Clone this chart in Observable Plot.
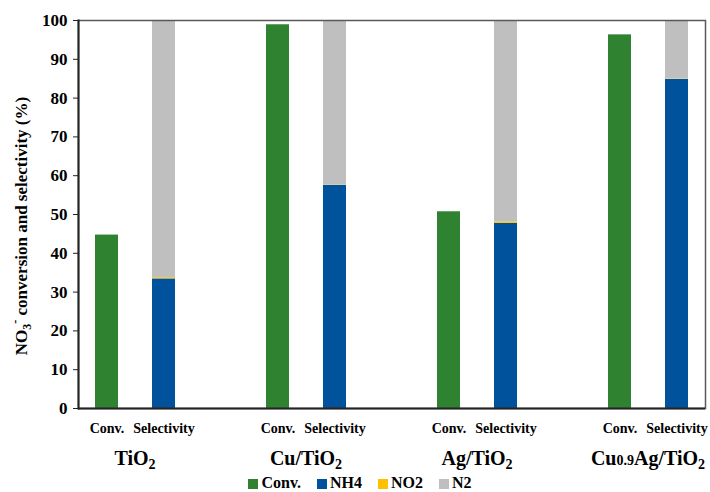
<!DOCTYPE html>
<html><head><meta charset="utf-8">
<script src="https://cdn.jsdelivr.net/npm/d3@7"></script>
<script src="https://cdn.jsdelivr.net/npm/@observablehq/plot@0.6"></script>
<style>
body{margin:0;background:#fff;font-family:"Liberation Serif","Times New Roman",serif;overflow:hidden;}
#chart svg{overflow:visible;display:block;}
#chart svg, #chart svg text{font-family:"Liberation Serif","Times New Roman",serif !important;font-weight:bold;}
#legend{display:flex;justify-content:center;align-items:center;gap:16px;font-weight:bold;font-size:16px;line-height:14px;height:14px;margin-top:3px;margin-left:10px;}
#legend .sw{display:inline-block;width:10px;height:10px;margin-right:3px;vertical-align:middle;}
</style></head><body>
<div id="chart"></div>
<div id="legend"></div>
<script>
// ---- data ----
const catalysts = ["TiO2", "Cu/TiO2", "Ag/TiO2", "Cu0.9Ag/TiO2"];
const barKinds = ["Conv.", "Selectivity"];
const conversion = [44.7, 98.9, 50.7, 96.3];
const nh4 = [33.4, 57.5, 47.7, 84.8];
const no2 = [0.3, 0.1, 0.4, 0.1];
const n2 = [66.3, 42.4, 51.9, 15.1];
const seriesNames = ["Conv.", "NH4", "NO2", "N2"];
const seriesColors = ["#2E8230", "#00529C", "#FFC000", "#BFBFBF"];
const yTicks = [0, 10, 20, 30, 40, 50, 60, 70, 80, 90, 100];
const yTitle = ["NO", "3", "-", " conversion and selectivity (%)"];

// ---- build table ----
const xDomain = [];
const rows = [];
catalysts.forEach((c, i) => {
  const kc = c + "|" + barKinds[0], ks = c + "|" + barKinds[1];
  xDomain.push(kc, ks);
  if (i < catalysts.length - 1) xDomain.push("gap" + i);
  rows.push({key: kc, series: "Conv.", value: conversion[i]});
  rows.push({key: ks, series: "NH4", value: nh4[i]});
  rows.push({key: ks, series: "NO2", value: no2[i]});
  rows.push({key: ks, series: "N2", value: n2[i]});
});

const plot = Plot.plot({
  width: 710, height: 473,
  marginTop: 20, marginBottom: 65, marginLeft: 78, marginRight: 5,
  style: {background: "white", color: "#000"},
  x: {type: "band", domain: xDomain, paddingInner: 0.605, paddingOuter: 0.3025, label: null},
  y: {domain: [0, 100], label: null},
  color: {domain: seriesNames, range: seriesColors},
  marks: [
    Plot.barY(rows, {x: "key", y: "value", fill: "series"}),
    Plot.frame({stroke: "#595959", strokeWidth: 1.5}),
    Plot.axisY({ticks: yTicks, tickSize: 5, tickPadding: 6, fontSize: 17, tickFormat: d => String(d), label: null, stroke: "#222"}),
    Plot.axisX({tickSize: 0, tickPadding: 15, fontSize: 14, label: null,
      tickFormat: k => k.startsWith("gap") ? "" : k.split("|")[1]}),
    Plot.ruleY([0], {stroke: "#222", strokeWidth: 2}),
    Plot.frame({anchor: "left", stroke: "#222", strokeWidth: 2})
  ]
});
document.getElementById("chart").appendChild(plot);

// ---- group labels and y title (real text) ----
const svg = d3.select(plot);
const xs = plot.scale("x");
const bw = xs.bandwidth;
function addRich(g, parts) {
  parts.forEach(p => {
    const t = g.append("tspan").text(p.t);
    if (p.size) t.attr("font-size", p.size);
    if (p.dy) t.attr("dy", p.dy);
  });
}
catalysts.forEach(c => {
  const x1 = xs.apply(c + "|" + barKinds[0]) + bw / 2;
  const x2 = xs.apply(c + "|" + barKinds[1]) + bw / 2;
  const t = svg.append("text")
    .attr("x", (x1 + x2) / 2).attr("y", 465)
    .attr("text-anchor", "middle").attr("font-size", 20).attr("font-weight", "bold");
  const m = c.match(/^(Cu)(0\.9)(Ag\/TiO)2$/);
  if (m) {
    addRich(t, [{t: "Cu"}, {t: "0.9", size: 14}, {t: "Ag/TiO"}, {t: "2", size: 14, dy: 4}]);
  } else {
    addRich(t, [{t: c.slice(0, -1)}, {t: "2", size: 14, dy: 4}]);
  }
});
const yt = svg.append("text")
  .attr("transform", "translate(27,226) rotate(-90)")
  .attr("text-anchor", "middle").attr("font-size", 17).attr("font-weight", "bold");
addRich(yt, [{t: yTitle[0]}, {t: yTitle[1], size: 12, dy: 4}, {t: yTitle[2], size: 12, dy: -12}, {t: yTitle[3], dy: 8}]);

// ---- legend ----
const lg = d3.select("#legend");
seriesNames.forEach((s, i) => {
  const it = lg.append("span");
  it.append("span").attr("class", "sw").style("background", seriesColors[i]);
  it.append("span").text(s);
});
</script>
</body></html>
